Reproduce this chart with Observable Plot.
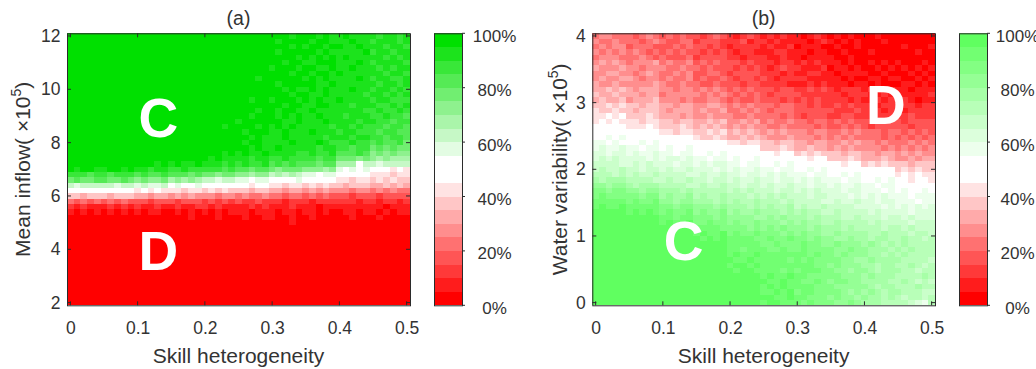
<!DOCTYPE html>
<html>
<head>
<meta charset="utf-8">
<script src="https://cdn.jsdelivr.net/npm/d3@7"></script>
<script src="https://cdn.jsdelivr.net/npm/@observablehq/plot@0.6"></script>
<style>
html,body{margin:0;padding:0;background:#fff;}
#fig{position:relative;width:1036px;height:369px;overflow:hidden;background:#fff;}
#fig svg{position:absolute;top:0;}
</style>
</head>
<body>
<div id="fig"></div>
<script>
// ---------------- data ----------------
const skill = [0,0.01,0.02,0.03,0.04,0.05,0.06,0.07,0.08,0.09,0.1,0.11,0.12,0.13,0.14,0.15,0.16,0.17,0.18,0.19,0.2,0.21,0.22,0.23,0.24,0.25,0.26,0.27,0.28,0.29,0.3,0.31,0.32,0.33,0.34,0.35,0.36,0.37,0.38,0.39,0.4,0.41,0.42,0.43,0.44,0.45,0.46,0.47,0.48,0.49,0.5];
const inflow = [12,11.8,11.6,11.4,11.2,11,10.8,10.6,10.4,10.2,10,9.8,9.6,9.4,9.2,9,8.8,8.6,8.4,8.2,8,7.8,7.6,7.4,7.2,7,6.8,6.6,6.4,6.2,6,5.8,5.6,5.4,5.2,5,4.8,4.6,4.4,4.2,4,3.8,3.6,3.4,3.2,3,2.8,2.6,2.4,2.2,2];
const water = [4,3.92,3.84,3.76,3.68,3.6,3.52,3.44,3.36,3.28,3.2,3.12,3.04,2.96,2.88,2.8,2.72,2.64,2.56,2.48,2.4,2.32,2.24,2.16,2.08,2,1.92,1.84,1.76,1.68,1.6,1.52,1.44,1.36,1.28,1.2,1.12,1.04,0.96,0.88,0.8,0.72,0.64,0.56,0.48,0.4,0.32,0.24,0.16,0.08,0];
const xTicks = [0,0.1,0.2,0.3,0.4,0.5];
const yTicksA = [2,4,6,8,10,12];
const yTicksB = [0,1,2,3,4];
const cbTicks = [0,20,40,60,80,100];
const pctEdges = [0,5,10,15,20,25,30,35,40,45,50,55,60,65,70,75,80,85,90,95,100];
// each character = one colour-bar bin (0 -> 0-5%, 1 -> 5-10%, ..., j -> 95-100%)
const levelCodes = "0123456789abcdefghij";

// panel (a): rows from top (inflow 12) to bottom (inflow 2); columns skill 0..0.5
const gridA = [
"jjjjj jjjjj jjjjj jjjjj jjjjj jjjjj jjjij jjiji ijiii ihiih i",
"jjjjj jjjjj jjjjj jjjjj jjjjj jjjjj jijjj jijji iijii hiiih i",
"jjjjj jjjjj jjjjj jjjjj jjjjj jjjjj jjjij ijjij jiiji iihii h",
"jjjjj jjjjj jjjjj jjjjj jjjjj jjjjj jijjj jjiji iiiij hiihi i",
"jjjjj jjjjj jjjjj jjjjj jjjjj jjjjj jjjji jijij ijiii iihih i",
"jjjjj jjjjj jjjjj jjjjj jjjjj jjjjj jjijj iijjj iiiji hiiii h",
"jjjjj jjjjj jjjjj jjjjj jjjjj jjjjj ijjji jjiij iijii ihihi i",
"jjjjj jjjjj jjjjj jjjjj jjjjj jjjjj jjjij jijji jiiii iihii h",
"jjjjj jjjjj jjjjj jjjjj jjjjj jjjij jjjjj ijiji iiiji hiihh i",
"jjjjj jjjjj jjjjj jjjjj jjjjj jjjjj jijjj jjiij iiiii ihiih i",
"jjjjj jjjjj jjjjj jjjjj jjjjj jjjjj jjiji ijiji iijii hiihi h",
"jjjjj jjjjj jjjjj jjjjj jjjjj jjjjj jjjij jiiji iiiih iihih i",
"jjjjj jjjjj jjjjj jjjjj jjjjj jjijj ijjji jijii jiiii hiihh h",
"jjjjj jjjjj jjjjj jjjjj jjjjj jjjjj jjijj iijji iihii ihhih i",
"jjjjj jjjjj jjjjj jjjjj jjjjj jjjij jijji ijiii iiiih hihhi h",
"jjjjj jjjjj jjjjj jjjjj jjjjj jjijj jijij iijii ihiii hhihh g",
"jjjjj jjjjj jjjjj jjjjj jjjjj ijjjj jjiij iiiji iiihi ihhgh h",
"jjjjj jjjjj jjjjj jjjjj jjjij jjjij ijiji iiiih iihih hhghh g",
"jjjjj jjjjj jjjjj jjjjj jjjjj jijjj iijii ijiii hiihh hghhg g",
"jjjjj jjjjj jjjjj jjjjj jjjjj jjiji iijii iiihi iihii hhghh g",
"jjjjj jjjjj jjjjj jjjjj jjjjj jijji iiiji iijih hhihh ghggh f",
"jjjjj jjjjj jjjjj jjjjj jjjjj jjiji ijiii iihii hhghh fgfgf f",
"jjjjj jjjjj jjjjj jjjjj jjjij ijiij iiiih hihhi ggghg efefe e",
"jjjjj jjjjj jjjjj jjjjj jijii iihii hhihh hhghh fffef ededd d",
"jjjjj jjjjj jjjij ijiij iiihi hihhi ghghg ggfgg ddd9c cbccc c",
"jijji ijjij iihii hhihh hhhgh ggfgg fefff eeede bab9b 9a989 8",
"hhhgh hghhh ghggh gggfg ffeff eedee cdcdc bbabb 9a99a 88878 8",
"fgffg gffgf efeef deded ccbcc bbabb aa9ab 9a99a 88788 78787 7",
"cbccc ccbcc bcbbc abaab 9a99a 99899 88788 78787 76777 66767 6",
"9a9a9 a99a9 89898 88788 78787 77677 66566 56565 55455 45454 4",
"77677 76777 66566 56565 55455 45445 44344 34343 33233 32333 3",
"43434 34343 33233 32333 23232 32232 22122 21222 22212 21221 2",
"21211 12121 21121 12112 21211 11212 11121 11011 11111 11011 1",
"10101 01010 10110 01010 10101 11011 10110 11010 01101 10101 1",
"00000 00000 00000 00010 00100 01001 10010 01000 00100 01000 0",
"00000 00000 00000 00000 00000 00000 00010 00000 00000 00000 0",
"00000 00000 00000 00000 00000 00000 00000 00000 00000 00000 0",
"00000 00000 00000 00000 00000 00000 00000 00000 00000 00000 0",
"00000 00000 00000 00000 00000 00000 00000 00000 00000 00000 0",
"00000 00000 00000 00000 00000 00000 00000 00000 00000 00000 0",
"00000 00000 00000 00000 00000 00000 00000 00000 00000 00000 0",
"00000 00000 00000 00000 00000 00000 00000 00000 00000 00000 0",
"00000 00000 00000 00000 00000 00000 00000 00000 00000 00000 0",
"00000 00000 00000 00000 00000 00000 00000 00000 00000 00000 0",
"00000 00000 00000 00000 00000 00000 00000 00000 00000 00000 0",
"00000 00000 00000 00000 00000 00000 00000 00000 00000 00000 0",
"00000 00000 00000 00000 00000 00000 00000 00000 00000 00000 0",
"00000 00000 00000 00000 00000 00000 00000 00000 00000 00000 0",
"00000 00000 00000 00000 00000 00000 00000 00000 00000 00000 0",
"00000 00000 00000 00000 00000 00000 00000 00000 00000 00000 0",
"00000 00000 00000 00000 00000 00000 00000 00000 00000 00000 0"
];

// panel (b): rows from top (variability 4) to bottom (0); columns skill 0..0.5
const gridB = [
"45544 43454 34343 32343 21232 12121 10121 01010 00100 00000 0",
"54454 44345 43344 23332 22312 21211 11012 10101 00010 00000 0",
"45455 34443 33434 33232 12222 12112 01110 01001 00000 01000 1",
"54545 45434 34343 32323 21221 11221 11011 00100 01000 00010 0",
"45554 44543 43334 23333 22122 21121 10111 10010 00000 00000 0",
"56565 45556 45445 34343 33232 22122 12121 11010 01010 10001 0",
"65556 55455 54454 43433 32323 21232 21112 01101 00101 01010 1",
"55665 54565 44545 33443 23333 22212 11221 10111 10010 00101 0",
"56556 65455 45445 34334 32332 32122 22111 11010 01101 10010 1",
"65565 55556 54454 43343 33233 22221 11212 11101 10100 01101 0",
"66767 65666 55455 45454 34343 33233 22323 21222 12112 11011 1",
"76676 66566 45555 54545 43434 32333 32222 22122 21121 11111 2",
"67667 56667 55545 44554 34334 33323 23232 22212 11212 12101 1",
"77878 77677 66566 55665 45454 44344 33232 23232 22122 22212 2",
"87787 76777 65666 56556 44545 43444 33333 32223 22212 21222 2",
"88989 77787 66656 55655 54454 44434 32333 22332 22222 22322 2",
"89898 88788 77677 66767 55656 45445 44344 34343 33233 32333 3",
"9a99a 88898 77787 67676 56565 54454 44434 33434 32333 33233 3",
"a99a9 9a99a 88788 77878 67676 56565 55455 44545 44434 43434 3",
"aabab 9a9a9 9a999 87787 66767 65556 55545 45454 44434 34343 4",
"bbaba aabab 99a9a 9a999 88788 77677 66566 55656 55454 44545 4",
"bcbbc bbabb abaab 9a9a9 99a99 77787 66766 56565 55545 45454 5",
"ccbcc bcbbc bbabb aabab 99a9a 99899 78787 77677 66566 56565 5",
"cdcdc cccbc bccbc bbabb abaab 9a99a 99899 77787 66676 55656 6",
"ddddc cdcdc ccbcc bcbcc bbabb aabab 9a99a 99899 78787 77677 7",
"dedde ddcdd cdccd cccbc bcbbc bbabb aabab 9a99a 99999 78787 7",
"eeede dedde ddddc cdccd ccbcc bcbcb bbabb aabab 9a99a 89898 8",
"fefff eeeed dedde ddcdd cdccd ccbcc bcbcb bbabb aabab 99899 8",
"ggfgg fefff eeeed dedde ddcdd cdccd ccbcc bcbbc bbabb 9a99a 9",
"hhghh ggfgg fffef eeeee deded ddcdd cdcdc ccbcc bbbab abaab a",
"hihhh hhghh fgffg efeef eeede deded ddcdd cccbc bcbcb bbabb b",
"iiiii hihhi ggfgg fffef efeef eeede ddddc cdccd ccbcc bbbab b",
"ijiij iiiii hhghh gggfg fffef efeef dedde ddddc cccbc bcbcb c",
"jjjjj ijiji hihhi ghggh fgffg fffef efeed deddd dcdcc ccbcc c",
"jjjjj jjjjj iihii hhhgh ggggf fgfgf ffefe eedde dddcd dcdcc c",
"jjjjj jjjjj ijiij hhihh ghggh gggfg fgffe efeee ededd ddcdd d",
"jjjjj jjjjj jjjjj iiiih hhhgh ghghg ggfgf ffefe eeede ededd d",
"jjjjj jjjjj jjjjj ijiij hihhi hhhgh ghggf fgfff feefe eedee d",
"jjjjj jjjjj jjjjj jijij iiiih hihhi hhghg gffgf feffe efeed e",
"jjjjj jjjjj jjjjj jjjjj iiiii hhihh hihhg ghggg fgfef efeee e",
"jjjjj jjjjj jjjjj jjjjj iihii ihhih hihhh hgghg gfffe fefee e",
"jjjjj jjjjj jjjjj jjjjj ijiij iiiii iihih hghgg gffef efeee e",
"jjjjj jjjjj jjjjj jjjjj jiiji iiiih ihihh hhggf fgfff feeee d",
"jjjjj jjjjj jjjjj jjjjj ijjij iiiii iiihh ghggg ffeff eefed e",
"jjjjj jjjjj jjjjj jjjjj jijji iiihi hiiih hggfg gfeff feede e",
"jjjjj jjjjj jjjjj jjjjj jjjjj ijiij iihhh hhggg fgfff eeeef e",
"jjjjj jjjjj jjjjj jjjjj jjjjj jiiji ihhih ghhgg ffffe efede d",
"jjjjj jjjjj jjjjj jjjjj jjjjj ijiji iiihh hgggg gfeff eeefe e",
"jjjjj jjjjj jjjjj jjjjj jjjjj iijij hiihh hhgfg fgfef feeed d",
"jjjjj jjjjj jjjjj jjjjj jjjjj jjiij iihhh ghggf gffef edeed e",
"jjjjj jjjjj jjjjj jjjjj jjjjj ijjii ihihh hgghg fffee eedcb e"
];

const regionLabelsA = [{text: "C", x: 0.13, y: 8.9}, {text: "D", x: 0.13, y: 3.9}];
const regionLabelsB = [{text: "C", x: 0.13, y: 0.91}, {text: "D", x: 0.431, y: 2.95}];

// ---------------- style ----------------
const H = 369;
const FONT = "'Liberation Sans', Arial, Helvetica, sans-serif";
const TXT = "#333333";
const AXC = "#2b2b2b";
const RED = "#ff0000", WHITE = "#ffffff", GREEN_A = "#00e000", GREEN_B = "#60ff60";
const fmt = d3.format("~g");

function palette(green) {
  const c = [];
  for (let k = 0; k < 10; k++) c.push(d3.interpolateRgb(RED, WHITE)(k / 9));
  for (let k = 0; k < 10; k++) c.push(d3.interpolateRgb(WHITE, green)(k / 9));
  return c;
}

function cells(grid, xs, ys) {
  if (grid.length !== ys.length) throw new Error("rows " + grid.length);
  const out = [];
  grid.forEach((row, r) => {
    const s = row.replace(/\s+/g, "");
    if (s.length !== xs.length) throw new Error("row " + r + " has length " + s.length);
    for (let c = 0; c < s.length; c++) {
      const idx = levelCodes.indexOf(s[c]);
      out.push({x: xs[c], y: ys[r], v: (pctEdges[idx] + pctEdges[idx + 1]) / 2});
    }
  });
  return out;
}

const fig = document.getElementById("fig");

function addText(sel, {x, y, size, text, anchor = "middle", transform}) {
  const t = sel.append("text").attr("text-anchor", anchor).attr("fill", TXT)
    .style("font-family", FONT).style("font-size", size + "px");
  if (transform) t.attr("transform", transform); else t.attr("x", x).attr("y", y);
  if (text) t.text(text);
  return t;
}

function panel({grid, ys, yTicks, green, title, ylabMain, labels, left, width, ml, ylabX}) {
  const data = cells(grid, skill, ys);
  const hx = Math.abs(skill[1] - skill[0]) / 2, hy = Math.abs(ys[1] - ys[0]) / 2;
  const chart = Plot.plot({
    width, height: H,
    marginLeft: ml, marginRight: 10, marginTop: 33.3, marginBottom: 63.7,
    style: {background: "transparent", fontFamily: FONT, fontSize: "17.5px", color: TXT},
    x: {domain: [d3.min(skill) - hx, d3.max(skill) + hx]},
    y: {domain: [d3.min(ys) - hy, d3.max(ys) + hy]},
    color: {type: "threshold", domain: pctEdges.slice(1, -1), range: palette(green)},
    marks: [
      Plot.rect(data, {x1: d => d.x - hx, x2: d => d.x + hx, y1: d => d.y - hy, y2: d => d.y + hy, fill: "v", shapeRendering: "crispEdges"}),
      Plot.text(labels, {x: "x", y: "y", text: "text", fill: "white", fontSize: 55, fontWeight: "bold", fontFamily: FONT}),
      Plot.frame({stroke: AXC, strokeWidth: 1}),
      Plot.axisX(xTicks, {tickSize: 0, tickPadding: 16, fontSize: 17.5, tickFormat: fmt, label: null}),
      Plot.axisY(yTicks, {tickSize: 0, tickPadding: 7, fontSize: 17.5, tickFormat: fmt, label: null})
    ]
  });
  chart.style.left = left + "px";
  const svg = d3.select(chart);
  const sx = chart.scale("x"), sy = chart.scale("y");
  const [xa, xb] = sx.range, [yb, ya] = sy.range;
  const g = svg.append("g").attr("stroke", AXC).attr("stroke-width", 1);
  const L = 4;
  for (const v of xTicks) {
    const X = sx.apply(v);
    g.append("line").attr("x1", X).attr("x2", X).attr("y1", yb).attr("y2", yb - L);
    g.append("line").attr("x1", X).attr("x2", X).attr("y1", ya).attr("y2", ya + L);
  }
  for (const v of yTicks) {
    const Y = sy.apply(v);
    g.append("line").attr("y1", Y).attr("y2", Y).attr("x1", xa).attr("x2", xa + L);
    g.append("line").attr("y1", Y).attr("y2", Y).attr("x1", xb).attr("x2", xb - L);
  }
  const cx = (xa + xb) / 2;
  addText(svg, {x: cx, y: 25, size: 19.5, text: title});
  addText(svg, {x: cx, y: 362.5, size: 21, text: "Skill heterogeneity"});
  const cy = (ya + yb) / 2;
  const t = addText(svg, {size: 21, transform: `translate(${ylabX},${cy}) rotate(-90)`});
  t.append("tspan").text(ylabMain + "( \u00d710");
  t.append("tspan").attr("dy", -9).style("font-size", "14px").text("5");
  t.append("tspan").attr("dy", 9).text(")");
  fig.appendChild(chart);
}

function colorbar({green, left, width, mr, dx}) {
  const bins = d3.range(pctEdges.length - 1);
  const chart = Plot.plot({
    width, height: H,
    marginLeft: 14, marginRight: mr, marginTop: 33.3, marginBottom: 63.7,
    style: {background: "transparent", fontFamily: FONT, fontSize: "17px", color: TXT},
    x: {domain: [0, 1], axis: null},
    y: {domain: [pctEdges[0], pctEdges[pctEdges.length - 1]], axis: null},
    color: {type: "threshold", domain: pctEdges.slice(1, -1), range: palette(green)},
    marks: [
      Plot.rect(bins, {x1: 0, x2: 1, y1: i => pctEdges[i], y2: i => pctEdges[i + 1], fill: i => (pctEdges[i] + pctEdges[i + 1]) / 2, shapeRendering: "crispEdges"}),
      Plot.frame({stroke: AXC, strokeWidth: 1}),
      Plot.text(cbTicks, {y: d => d, text: d => d + "%", frameAnchor: "right", dx, dy: 2.5, textAnchor: "middle", fontSize: 17, fill: TXT})
    ]
  });
  chart.style.left = left + "px";
  const svg = d3.select(chart);
  const sx = chart.scale("x"), sy = chart.scale("y");
  const xb = sx.range[1];
  const g = svg.append("g").attr("stroke", AXC).attr("stroke-width", 1);
  for (const v of cbTicks) {
    const Y = sy.apply(v);
    g.append("line").attr("x1", xb).attr("x2", xb + 3).attr("y1", Y).attr("y2", Y);
  }
  fig.appendChild(chart);
}

panel({grid: gridA, ys: inflow, yTicks: yTicksA, green: GREEN_A, title: "(a)", ylabMain: "Mean inflow",
  labels: regionLabelsA, left: 0, width: 420, ml: 67, ylabX: 30});
colorbar({green: GREEN_A, left: 420, width: 100, mr: 58, dx: 32});
panel({grid: gridB, ys: water, yTicks: yTicksB, green: GREEN_B, title: "(b)", ylabMain: "Water variability",
  labels: regionLabelsB, left: 520, width: 425, ml: 72.3, ylabX: 47});
colorbar({green: GREEN_B, left: 945, width: 91, mr: 49, dx: 30});
</script>
</body>
</html>
